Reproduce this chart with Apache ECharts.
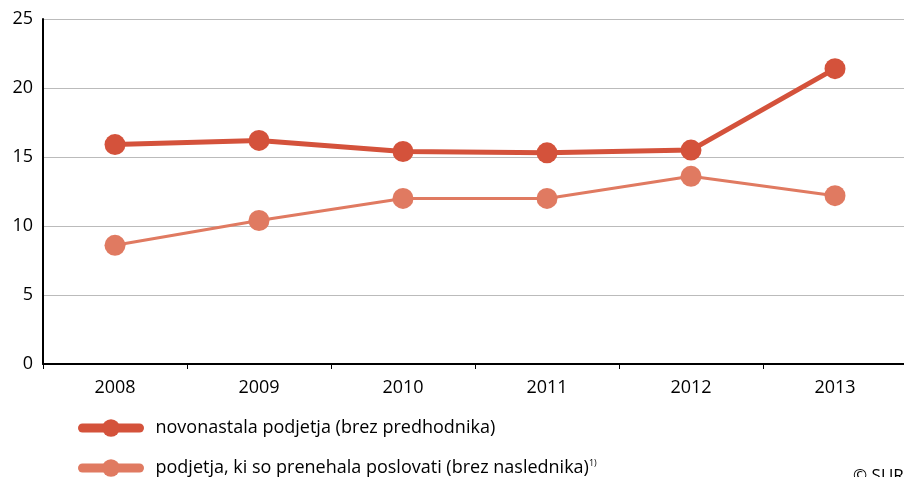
<!DOCTYPE html>
<html><head><meta charset="utf-8">
<script src="https://cdn.jsdelivr.net/npm/echarts@6/dist/echarts.min.js"></script>
<style>html,body{margin:0;padding:0;background:#fff}#c{width:904px;height:477px}</style>
</head><body><div id="c"></div>
<script>
const categories = ['2008','2009','2010','2011','2012','2013'];
const seriesNew = [15.9, 16.2, 15.4, 15.3, 15.5, 21.4];
const seriesClosed = [8.6, 10.4, 12.0, 12.0, 13.6, 12.2];
const yTicks = [0, 5, 10, 15, 20, 25];
const nameNew = 'novonastala podjetja (brez predhodnika)';
const nameClosed = 'podjetja, ki so prenehala poslovati (brez naslednika)';

const font = '"Open Sans", "Noto Sans", sans-serif';
const chart = echarts.init(document.getElementById('c'));
chart.setOption({
  animation: false,
  textStyle: { fontFamily: font },
  grid: { left: 43, right: -3, top: 19, bottom: 113, outerBoundsMode: 'none', containLabel: false },
  legend: {
    orient: 'vertical', left: 78, top: 419, itemWidth: 57, itemHeight: 22, itemGap: 22, padding: 0,
    textStyle: { fontSize: 18, color: '#000', fontFamily: font, padding: [0,0,0,11],
      rich: { sup: { fontSize: 9, verticalAlign: 'top', padding: [0,0,9,0], color: '#000' } } },
    formatter: function (n) { return n === nameClosed ? n + '{sup|1)}' : n; },
    data: [
      { name: nameNew, lineStyle: { width: 9, cap: 'round' } },
      { name: nameClosed, lineStyle: { width: 9, cap: 'round' } }
    ]
  },
  xAxis: {
    type: 'category', data: categories, boundaryGap: true,
    axisLine: { lineStyle: { color: '#000', width: 2 } },
    axisTick: { show: true, length: 5, lineStyle: { color: '#000', width: 1 } },
    axisLabel: { fontSize: 18, color: '#000', margin: 15 }
  },
  yAxis: {
    type: 'value', min: yTicks[0], max: yTicks[yTicks.length-1], interval: 5,
    axisLine: { show: true, lineStyle: { color: '#000', width: 2 } },
    axisTick: { show: false },
    axisLabel: { fontSize: 18, color: '#000', margin: 10 },
    splitLine: { lineStyle: { color: '#bbbbbb', width: 1 } }
  },
  series: [
    { name: nameNew, type: 'line', data: seriesNew, symbol: 'circle', symbolSize: 21,
      lineStyle: { width: 5, color: '#d4523b' }, itemStyle: { color: '#d4523b' }, z: 3 },
    { name: nameClosed, type: 'line', data: seriesClosed, symbol: 'circle', symbolSize: 21,
      lineStyle: { width: 3, color: '#e07a61' }, itemStyle: { color: '#e07a61' }, z: 2 }
  ],
  graphic: [{ type: 'text', left: 853, top: 468, style: { text: '© SURS', fontSize: 17, fill: '#000', fontFamily: font } }]
});
</script></body></html>
